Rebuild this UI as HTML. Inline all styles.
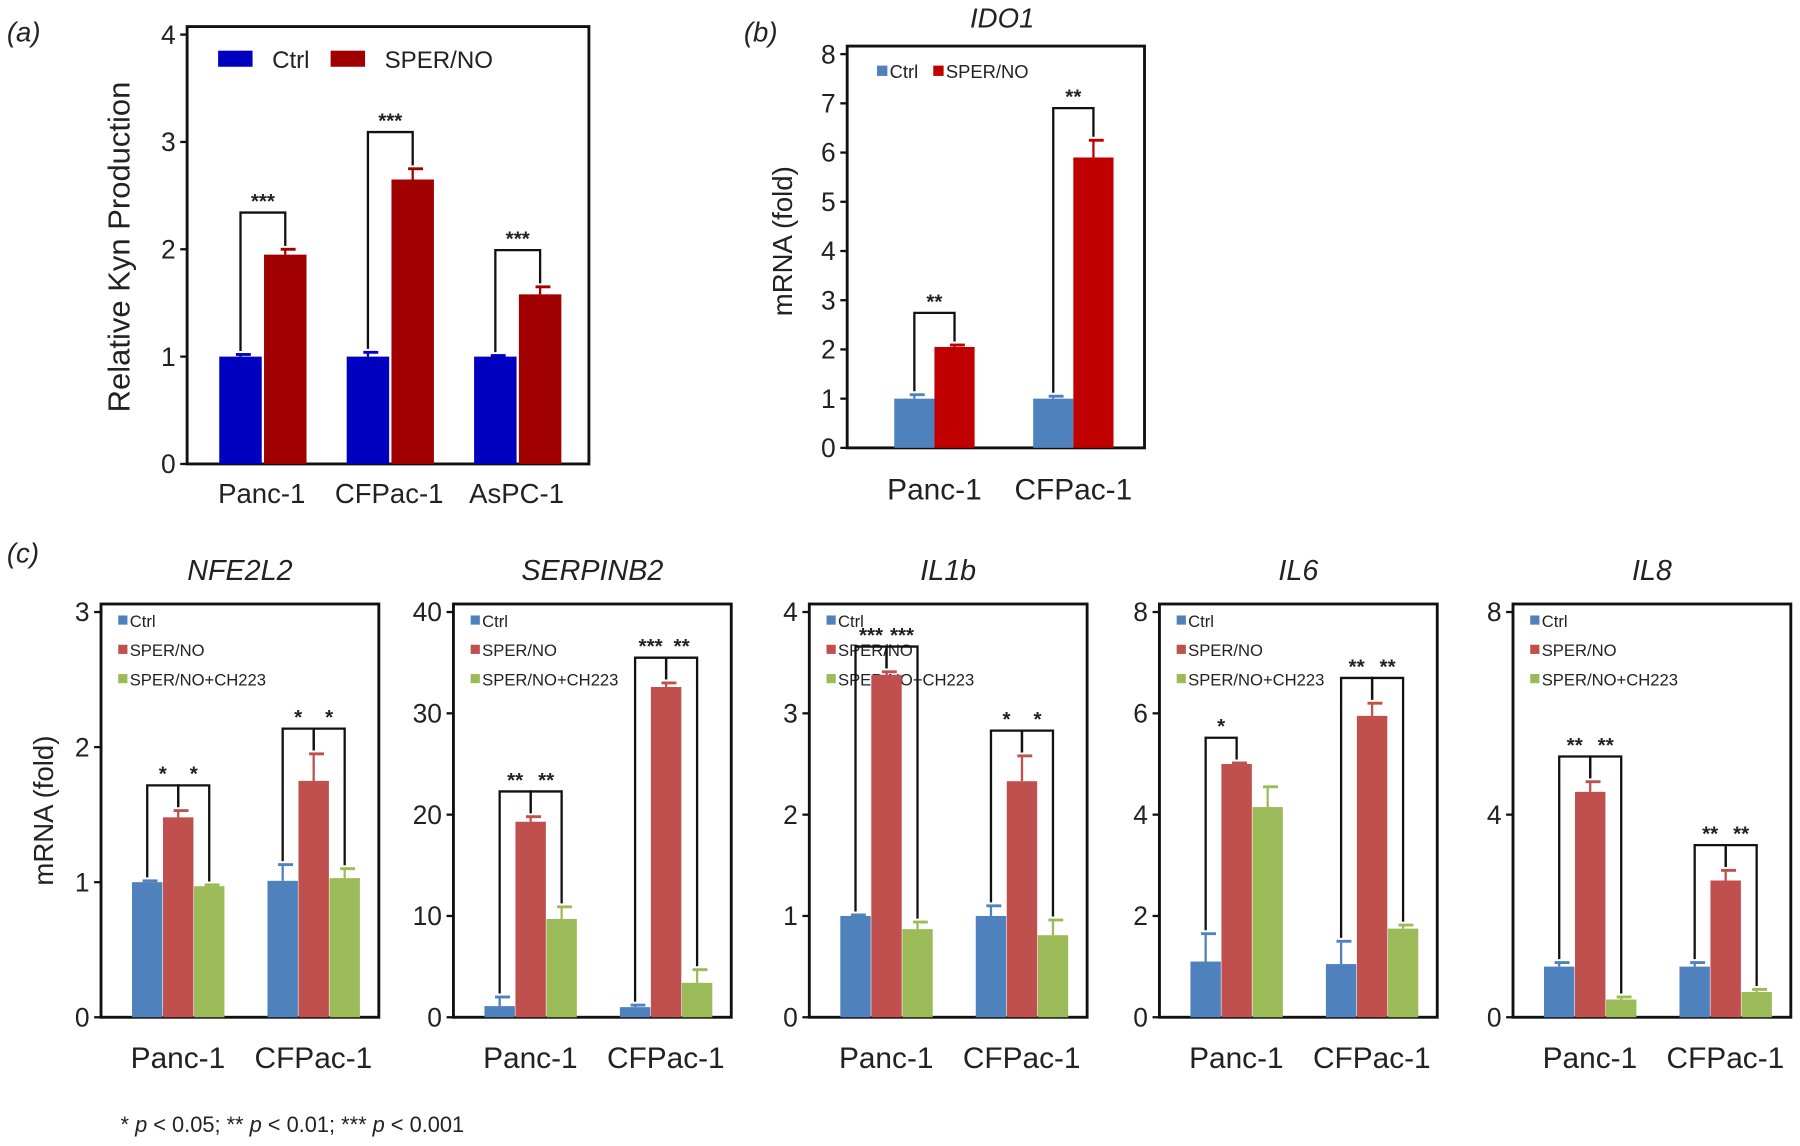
<!DOCTYPE html>
<html><head><meta charset="utf-8"><style>
body{margin:0;background:#fff}
svg{display:block}
text{font-family:"Liberation Sans",Arial,sans-serif;fill:#222}
</style></head><body>
<svg id="fig" width="1800" height="1146" viewBox="0 0 1568 998" xmlns="http://www.w3.org/2000/svg"></svg>
<script>
// ---- Data ----
const catsAB = ["Panc-1","CFPac-1","AsPC-1"];
const kynCtrl = [1,1,1];
const kynSper = [1.95,2.65,1.58];
const kynCtrlErr = [0.02,0.04,0.01];
const kynSperErr = [0.05,0.1,0.07];
const kynSig = ["***","***","***"];
const kynTicks = [0,1,2,3,4];

const catsB = ["Panc-1","CFPac-1"];
const idoCtrl = [1,1];
const idoSper = [2.05,5.9];
const idoCtrlErr = [0.08,0.05];
const idoSperErr = [0.04,0.35];
const idoSig = ["**","**"];
const idoTicks = [0,1,2,3,4,5,6,7,8];

const genes = ["NFE2L2","SERPINB2","IL1b","IL6","IL8"];
const geneMax = [3,40,4,8,8];
const geneTicks = [[0,1,2,3],[0,10,20,30,40],[0,1,2,3,4],[0,2,4,6,8],[0,4,8]];
const cCtrl = [[1,1.01],[1.1,1],[1,1],[1.1,1.05],[1,1]];
const cSper = [[1.48,1.75],[19.3,32.6],[3.38,2.33],[5,5.95],[4.45,2.7]];
const cCh = [[0.97,1.03],[9.7,3.4],[0.87,0.81],[4.15,1.75],[0.35,0.5]];
const cCtrlErr = [[0.01,0.12],[0.9,0.2],[0.01,0.1],[0.55,0.45],[0.08,0.08]];
const cSperErr = [[0.05,0.2],[0.5,0.4],[0.03,0.25],[0.02,0.25],[0.2,0.2]];
const cChErr = [[0.01,0.07],[1.2,1.3],[0.07,0.15],[0.4,0.07],[0.05,0.05]];
const sig1 = [["*","*"],["**","***"],["***","*"],["*","**"],["**","**"]];
const sig2 = [["*","*"],["**","**"],["***","*"],["","**"],["**","**"]];

const svg = document.getElementById('fig');
const NS = "http://www.w3.org/2000/svg";
function el(tag, attrs, txt){
  const e = document.createElementNS(NS, tag);
  for (const k in attrs) e.setAttribute(k, attrs[k]);
  if (txt !== undefined) e.textContent = txt;
  svg.appendChild(e);
  return e;
}
function bar(x,w,yScale,v,err,color,name){
  const y0=yScale(0), y1=yScale(v);
  const r = el('rect',{x:x,y:y1,width:w,height:y0-y1,fill:color});
  
  
  const cx=x+w/2, ye=yScale(v+err);
  const e1 = el('line',{x1:cx,y1:y1,x2:cx,y2:ye,stroke:color,'stroke-width':2});
  
  
  el('line',{x1:cx-4,y1:ye,x2:cx+9,y2:ye,stroke:color,'stroke-width':2.5});
  return {cx:cx, top:ye};
}
function bracket(a,b,level,label,fs){
  const p = el('polyline',{points:`${a.cx},${a.top-3} ${a.cx},${level} ${b.cx},${level} ${b.cx},${b.top-3}`,fill:'none',stroke:'#111','stroke-width':2});
  
  
  const t = el('text',{x:(a.cx+b.cx)/2,y:level-4,'text-anchor':'middle','font-size':fs,'font-weight':'bold'},label);
  
  
}
function axes(x0,y0,x1,y1,max,ticks,fs,name){
  const ys = v => y1 - (v/max)*(y1-y0-7);
  const b = el('rect',{x:x0,y:y0,width:x1-x0,height:y1-y0,fill:'none',stroke:'#111','stroke-width':2.5});
  
  
  ticks.forEach(t=>{
    el('line',{x1:x0-6,y1:ys(t),x2:x0,y2:ys(t),stroke:'#111','stroke-width':2});
    const tl = el('text',{x:x0-10,y:ys(t)+8,'text-anchor':'end','font-size':fs},t);
    
    
  });
  return ys;
}
function label(x,y,txt,fs,name,extra){
  const t = el('text',Object.assign({x:x,y:y,'font-size':fs},extra||{}),txt);
  
  
  return t;
}

// ---- Panel (a) ----
label(6,36,'(a)',24,'panel-label-a',{'font-style':'italic'});
{
  const ys = axes(163,23,513,404,4,kynTicks,23,'kyn');
  const starts=[191,302,413];
  catsAB.forEach((c,i)=>{
    const a = bar(starts[i],37,ys,kynCtrl[i],kynCtrlErr[i],'#0000c0','bar-ctrl-'+c);
    const b = bar(starts[i]+39,37,ys,kynSper[i],kynSperErr[i],'#a00000','bar-sper-'+c);
    bracket(a,b,b.top-32,kynSig[i],18);
    label(starts[i]+37,438,c,24,'x-label-'+c,{'text-anchor':'middle'});
  });
  el('rect',{x:190,y:44,width:30,height:14,fill:'#0000c0'});
  label(237,59,'Ctrl',21,'legend-ctrl');
  el('rect',{x:288,y:44,width:30,height:14,fill:'#a00000'});
  label(335,59,'SPER/NO',21,'legend-sper-no');
  label(0,0,'Relative Kyn Production',27,'y-axis-title-a',{transform:'translate(113,215) rotate(-90)','text-anchor':'middle'});
}

// ---- Panel (b) ----
label(648,36,'(b)',24,'panel-label-b',{'font-style':'italic'});
{
  const ys = axes(738,40,997,390,8,idoTicks,23,'ido1');
  const starts=[779,900];
  catsB.forEach((c,i)=>{
    const a = bar(starts[i],35,ys,idoCtrl[i],idoCtrlErr[i],'#4f81bd','bar-ido1-ctrl-'+c);
    const b = bar(starts[i]+35,35,ys,idoSper[i],idoSperErr[i],'#c00000','bar-ido1-sper-'+c);
    bracket(a,b,b.top-28,idoSig[i],18);
    label(starts[i]+35,435,c,26,'x-label-ido1-'+c,{'text-anchor':'middle'});
  });
  label(873,24,'IDO1',24,'title-ido1',{'text-anchor':'middle','font-style':'italic'});
  el('rect',{x:764,y:57,width:9,height:9,fill:'#4f81bd'});
  label(775,68,'Ctrl',16,'legend-ido1-ctrl');
  el('rect',{x:813,y:57,width:9,height:9,fill:'#c00000'});
  label(824,68,'SPER/NO',16,'legend-ido1-sper');
  label(0,0,'mRNA (fold)',24,'y-axis-title-b',{transform:'translate(690,210) rotate(-90)','text-anchor':'middle'});
}

// ---- Panel (c) ----
label(6,490,'(c)',24,'panel-label-c',{'font-style':'italic'});
label(0,0,'mRNA (fold)',24,'y-axis-title-c',{transform:'translate(46,706) rotate(-90)','text-anchor':'middle'});
const boxX=[88,395,705,1010,1318];
genes.forEach((g,k)=>{
  const x0=boxX[k], x1=x0+242;
  const ys = axes(x0,526,x1,886,geneMax[k],geneTicks[k],23,g);
  label((x0+x1)/2,505,g,25,'title-'+g,{'text-anchor':'middle','font-style':'italic'});
  const cols=['#4f81bd','#c0504d','#9bbb59'];
  const names=['Ctrl','SPER/NO','SPER/NO+CH223'];
  names.forEach((n,j)=>{
    el('rect',{x:x0+15,y:536+j*25.5,width:8,height:8,fill:cols[j]});
    label(x0+25,546+j*25.5,n,14.5,'legend-'+g+'-'+j);
  });
  catsB.forEach((c,i)=>{
    const gx = x0+27+i*118;
    const a = bar(gx,26.5,ys,cCtrl[k][i],cCtrlErr[k][i],cols[0],'bar-'+g+'-ctrl-'+c);
    const b = bar(gx+27,26.5,ys,cSper[k][i],cSperErr[k][i],cols[1],'bar-'+g+'-sper-'+c);
    const d = bar(gx+54,26.5,ys,cCh[k][i],cChErr[k][i],cols[2],'bar-'+g+'-ch223-'+c);
    const lvl = Math.min(a.top,b.top,d.top)-22;
    if (sig1[k][i]) bracket(a,b,lvl,sig1[k][i],18);
    if (sig2[k][i]) bracket(b,d,lvl,sig2[k][i],18);
    label(gx+40,930,c,26,'x-label-'+g+'-'+c,{'text-anchor':'middle'});
  });
});
const fn = el('text',{x:105,y:986,'font-size':19});


fn.innerHTML='* <tspan font-style="italic">p</tspan> &lt; 0.05; ** <tspan font-style="italic">p</tspan> &lt; 0.01; *** <tspan font-style="italic">p</tspan> &lt; 0.001';
</script>
</body></html>
